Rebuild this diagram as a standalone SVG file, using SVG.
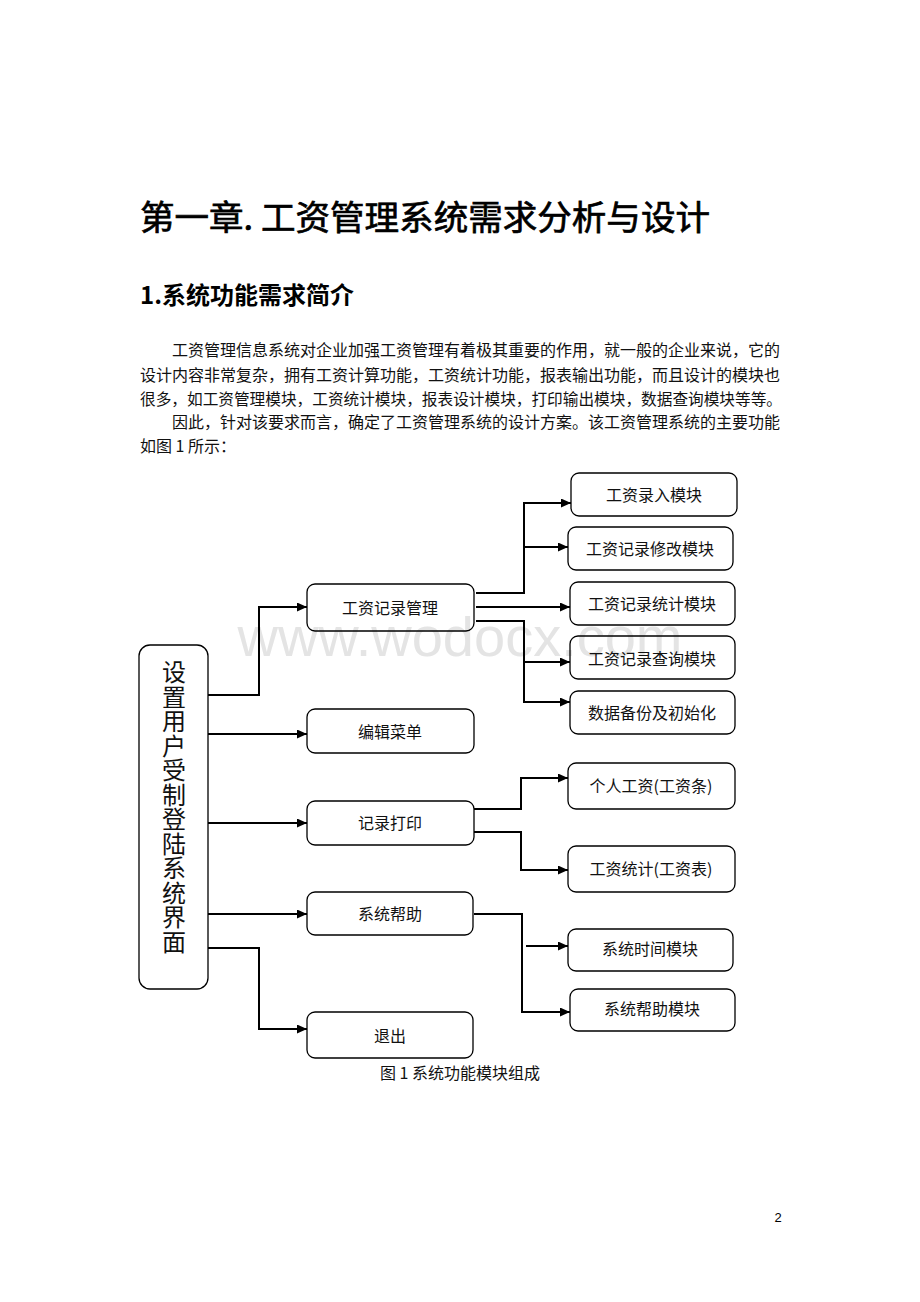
<svg xmlns="http://www.w3.org/2000/svg" width="920" height="1302" viewBox="0 0 920 1302">
<defs>
<marker id="arr" markerUnits="userSpaceOnUse" markerWidth="11" markerHeight="10" refX="10" refY="4.5" orient="auto">
<path d="M0,0 L10,4.5 L0,9 z" fill="#000"/>
</marker>
<style>
.cjk{font-family:"Noto Sans CJK SC","Noto Sans",sans-serif;}
.p{font-size:16px;fill:#111;}
.box{fill:none;stroke:#000;stroke-width:1.3;}
.bt{font-family:"Noto Sans CJK SC",sans-serif;font-size:16px;fill:#111;text-anchor:middle;}
.con{fill:none;stroke:#000;stroke-width:2;marker-end:url(#arr);}
</style>
</defs>
<rect width="920" height="1302" fill="#fff"/>

<g id="page-text">
<text class="cjk" x="140" y="230" font-size="34" textLength="570" lengthAdjust="spacingAndGlyphs" fill="#000" stroke="#000" stroke-width="0.7">第一章. 工资管理系统需求分析与设计</text>
<text class="cjk" x="140" y="304" font-size="24" font-weight="bold" fill="#000">1.系统功能需求简介</text>
<text class="cjk p" x="172" y="356" textLength="608" lengthAdjust="spacingAndGlyphs">工资管理信息系统对企业加强工资管理有着极其重要的作用，就一般的企业来说，它的</text>
<text class="cjk p" x="140" y="381" textLength="640" lengthAdjust="spacingAndGlyphs">设计内容非常复杂，拥有工资计算功能，工资统计功能，报表输出功能，而且设计的模块也</text>
<text class="cjk p" x="140" y="405" textLength="642" lengthAdjust="spacingAndGlyphs">很多，如工资管理模块，工资统计模块，报表设计模块，打印输出模块，数据查询模块等等。</text>
<text class="cjk p" x="172" y="428" textLength="608" lengthAdjust="spacingAndGlyphs">因此，针对该要求而言，确定了工资管理系统的设计方案。该工资管理系统的主要功能</text>
<text class="cjk p" x="140" y="452">如图 1 所示：</text>
</g>

<text id="watermark" x="460" y="656" font-family="Liberation Sans,Arial,sans-serif" font-size="56" fill="#e4e4e4" text-anchor="middle">www.wodocx.com</text>

<g id="connectors">
<path class="con" d="M208,695 H259 V607 H307"/>
<path class="con" d="M208,734 H307"/>
<path class="con" d="M208,823 H307"/>
<path class="con" d="M208,914 H307"/>
<path class="con" d="M208,948 H259 V1029 H307"/>
<path class="con" d="M476,593 H524 V503 H571"/>
<path class="con" d="M524,547 H568"/>
<path class="con" d="M476,607 H570"/>
<path class="con" d="M476,621 H524 V702 H570"/>
<path class="con" d="M524,662 H570"/>
<path class="con" d="M474,809 H521 V778 H568"/>
<path class="con" d="M474,832 H521 V870 H568"/>
<path class="con" d="M474,914 H522 V1012 H570"/>
<path class="con" d="M526,946 H568"/>
</g>

<g id="n-main">
<rect class="box" x="139" y="645" width="69" height="344" rx="11"/>
<text class="cjk" font-size="24" fill="#111" text-anchor="middle">
<tspan x="174" y="681">设</tspan><tspan x="174" y="705.5">置</tspan><tspan x="174" y="730">用</tspan><tspan x="174" y="754.5">户</tspan><tspan x="174" y="779">受</tspan><tspan x="174" y="803.5">制</tspan><tspan x="174" y="828">登</tspan><tspan x="174" y="852.5">陆</tspan><tspan x="174" y="877">系</tspan><tspan x="174" y="901.5">统</tspan><tspan x="174" y="926">界</tspan><tspan x="174" y="950.5">面</tspan>
</text>
</g>

<g id="n-gzjlgl"><rect class="box" x="307" y="584" width="167" height="47" rx="8"/><text class="bt" x="390" y="614">工资记录管理</text></g>
<g id="n-bjcd"><rect class="box" x="307" y="709" width="167" height="44" rx="8"/><text class="bt" x="390" y="738">编辑菜单</text></g>
<g id="n-jldy"><rect class="box" x="307" y="801" width="167" height="44" rx="8"/><text class="bt" x="390" y="829">记录打印</text></g>
<g id="n-xtbz"><rect class="box" x="307" y="892" width="166" height="43" rx="8"/><text class="bt" x="390" y="920">系统帮助</text></g>
<g id="n-tc"><rect class="box" x="307" y="1012" width="166" height="46" rx="8"/><text class="bt" x="390" y="1042">退出</text></g>

<g id="n-gzlr"><rect class="box" x="571" y="473" width="166" height="43" rx="8"/><text class="bt" x="654" y="501">工资录入模块</text></g>
<g id="n-gzxg"><rect class="box" x="568" y="527" width="165" height="43" rx="8"/><text class="bt" x="650" y="555">工资记录修改模块</text></g>
<g id="n-gztj"><rect class="box" x="570" y="582" width="165" height="43" rx="8"/><text class="bt" x="652" y="610">工资记录统计模块</text></g>
<g id="n-gzcx"><rect class="box" x="570" y="636" width="165" height="43" rx="8"/><text class="bt" x="652" y="665">工资记录查询模块</text></g>
<g id="n-sjbf"><rect class="box" x="570" y="691" width="165" height="43" rx="8"/><text class="bt" x="652" y="719">数据备份及初始化</text></g>
<g id="n-grgz"><rect class="box" x="568" y="763" width="167" height="46" rx="8"/><text class="bt" x="651" y="792">个人工资(工资条)</text></g>
<g id="n-gztjb"><rect class="box" x="568" y="846" width="167" height="46" rx="8"/><text class="bt" x="651" y="875">工资统计(工资表)</text></g>
<g id="n-xtsj"><rect class="box" x="568" y="929" width="165" height="42" rx="8"/><text class="bt" x="650" y="955">系统时间模块</text></g>
<g id="n-xtbzmk"><rect class="box" x="570" y="989" width="165" height="42" rx="8"/><text class="bt" x="652" y="1015">系统帮助模块</text></g>

<text class="cjk" x="460" y="1079" font-size="16" fill="#111" text-anchor="middle">图 1 系统功能模块组成</text>
<text x="778" y="1222" font-family="Liberation Sans,Arial,sans-serif" font-size="13" fill="#000" text-anchor="middle">2</text>
</svg>
